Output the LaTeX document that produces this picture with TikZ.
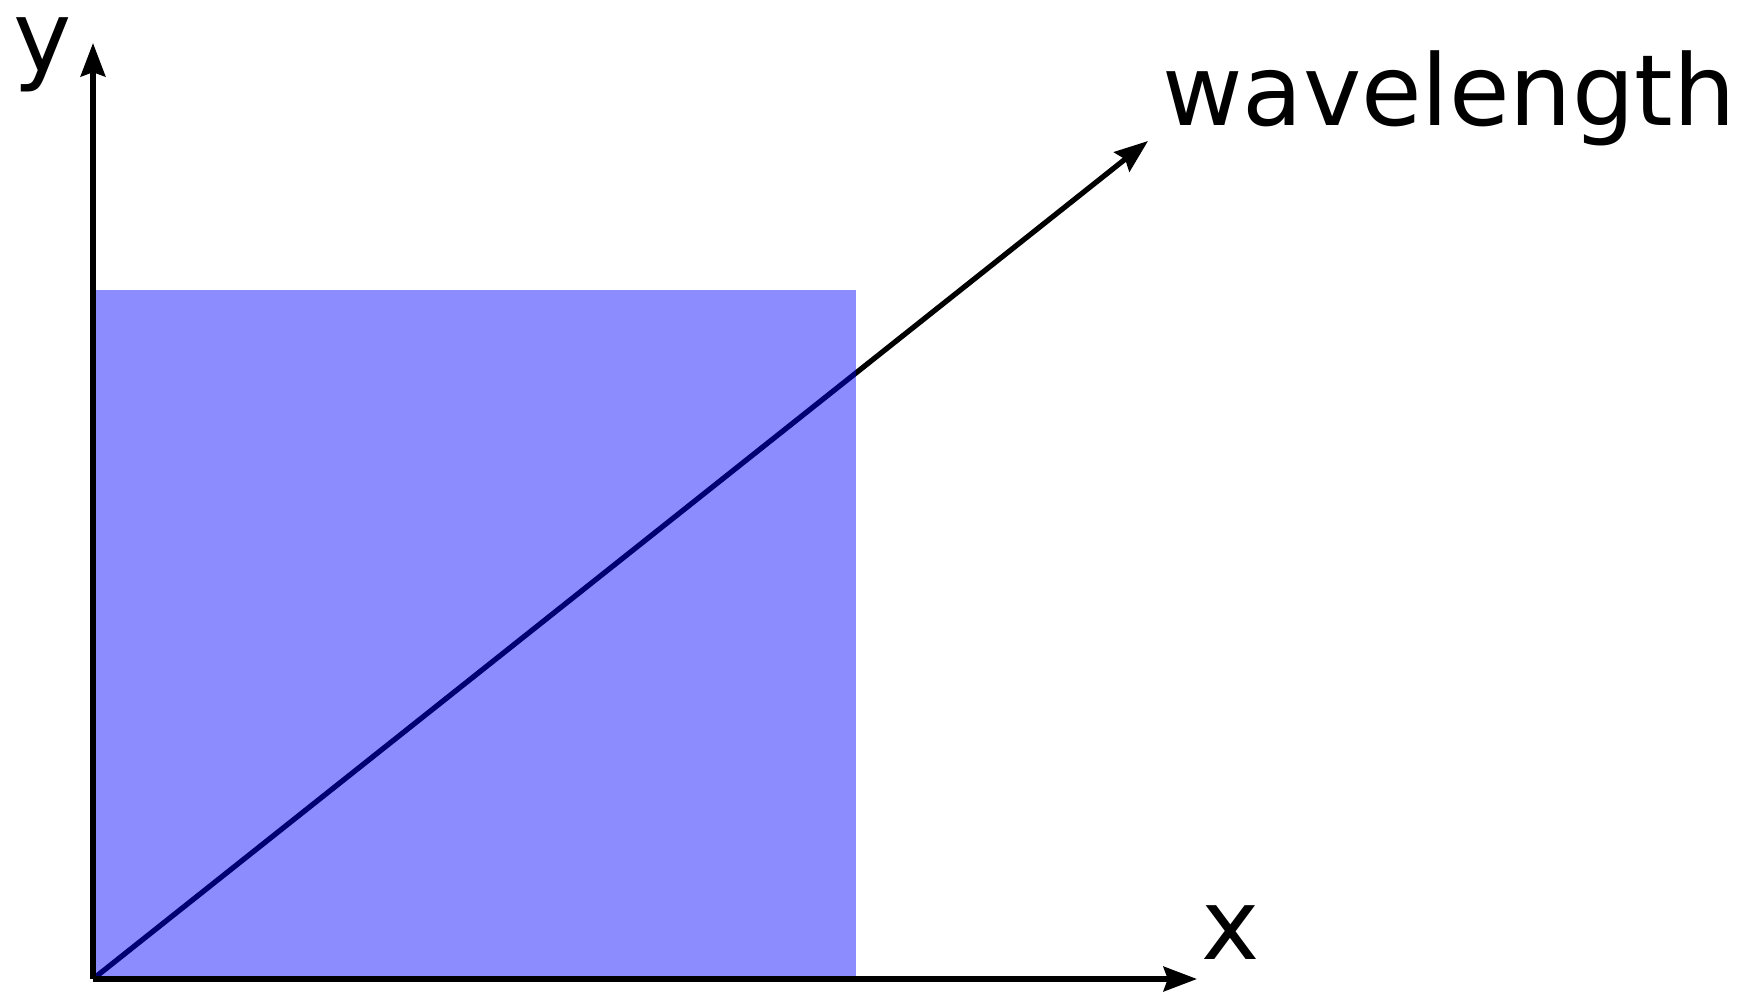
\documentclass[tikz,border=0pt]{standalone}
\usepackage{fontspec}
\setmainfont{DejaVu Sans}
\usetikzlibrary{arrows.meta}

\begin{document}
\begin{tikzpicture}[x=0.01cm, y=-0.01cm, line width=1.5pt,
    every node/.style={font=\fontsize{28}{34}\selectfont, inner sep=0pt},
    axisarrow/.style={-{Stealth[length=9.5pt,width=7pt,inset=1.2pt]}}]

    \useasboundingbox (0,0) rectangle (1747,993);

    % Points
    \coordinate (O) at (93,979);
    \coordinate (ytip) at (93,43);
    \coordinate (xtip) at (1197,979);
    \coordinate (wtip) at (1148,141);

    % Diagonal wavelength axis (under the box)
    \draw[axisarrow] (O) -- (wtip);

    % Box
    \fill[blue, opacity=0.45] (95,290) rectangle (856,977);

    % Axes
    \draw[axisarrow] (O) -- (ytip);
    \draw[axisarrow] (O) -- (xtip);

    % Labels
    \node[anchor=base] (ylabel) at (43,71) {y};
    \node[anchor=base] (xlabel) at (1231,959) {x};
    \node[anchor=base] (wlabel) at (1449,125) {wavelength};

\end{tikzpicture}
\end{document}
